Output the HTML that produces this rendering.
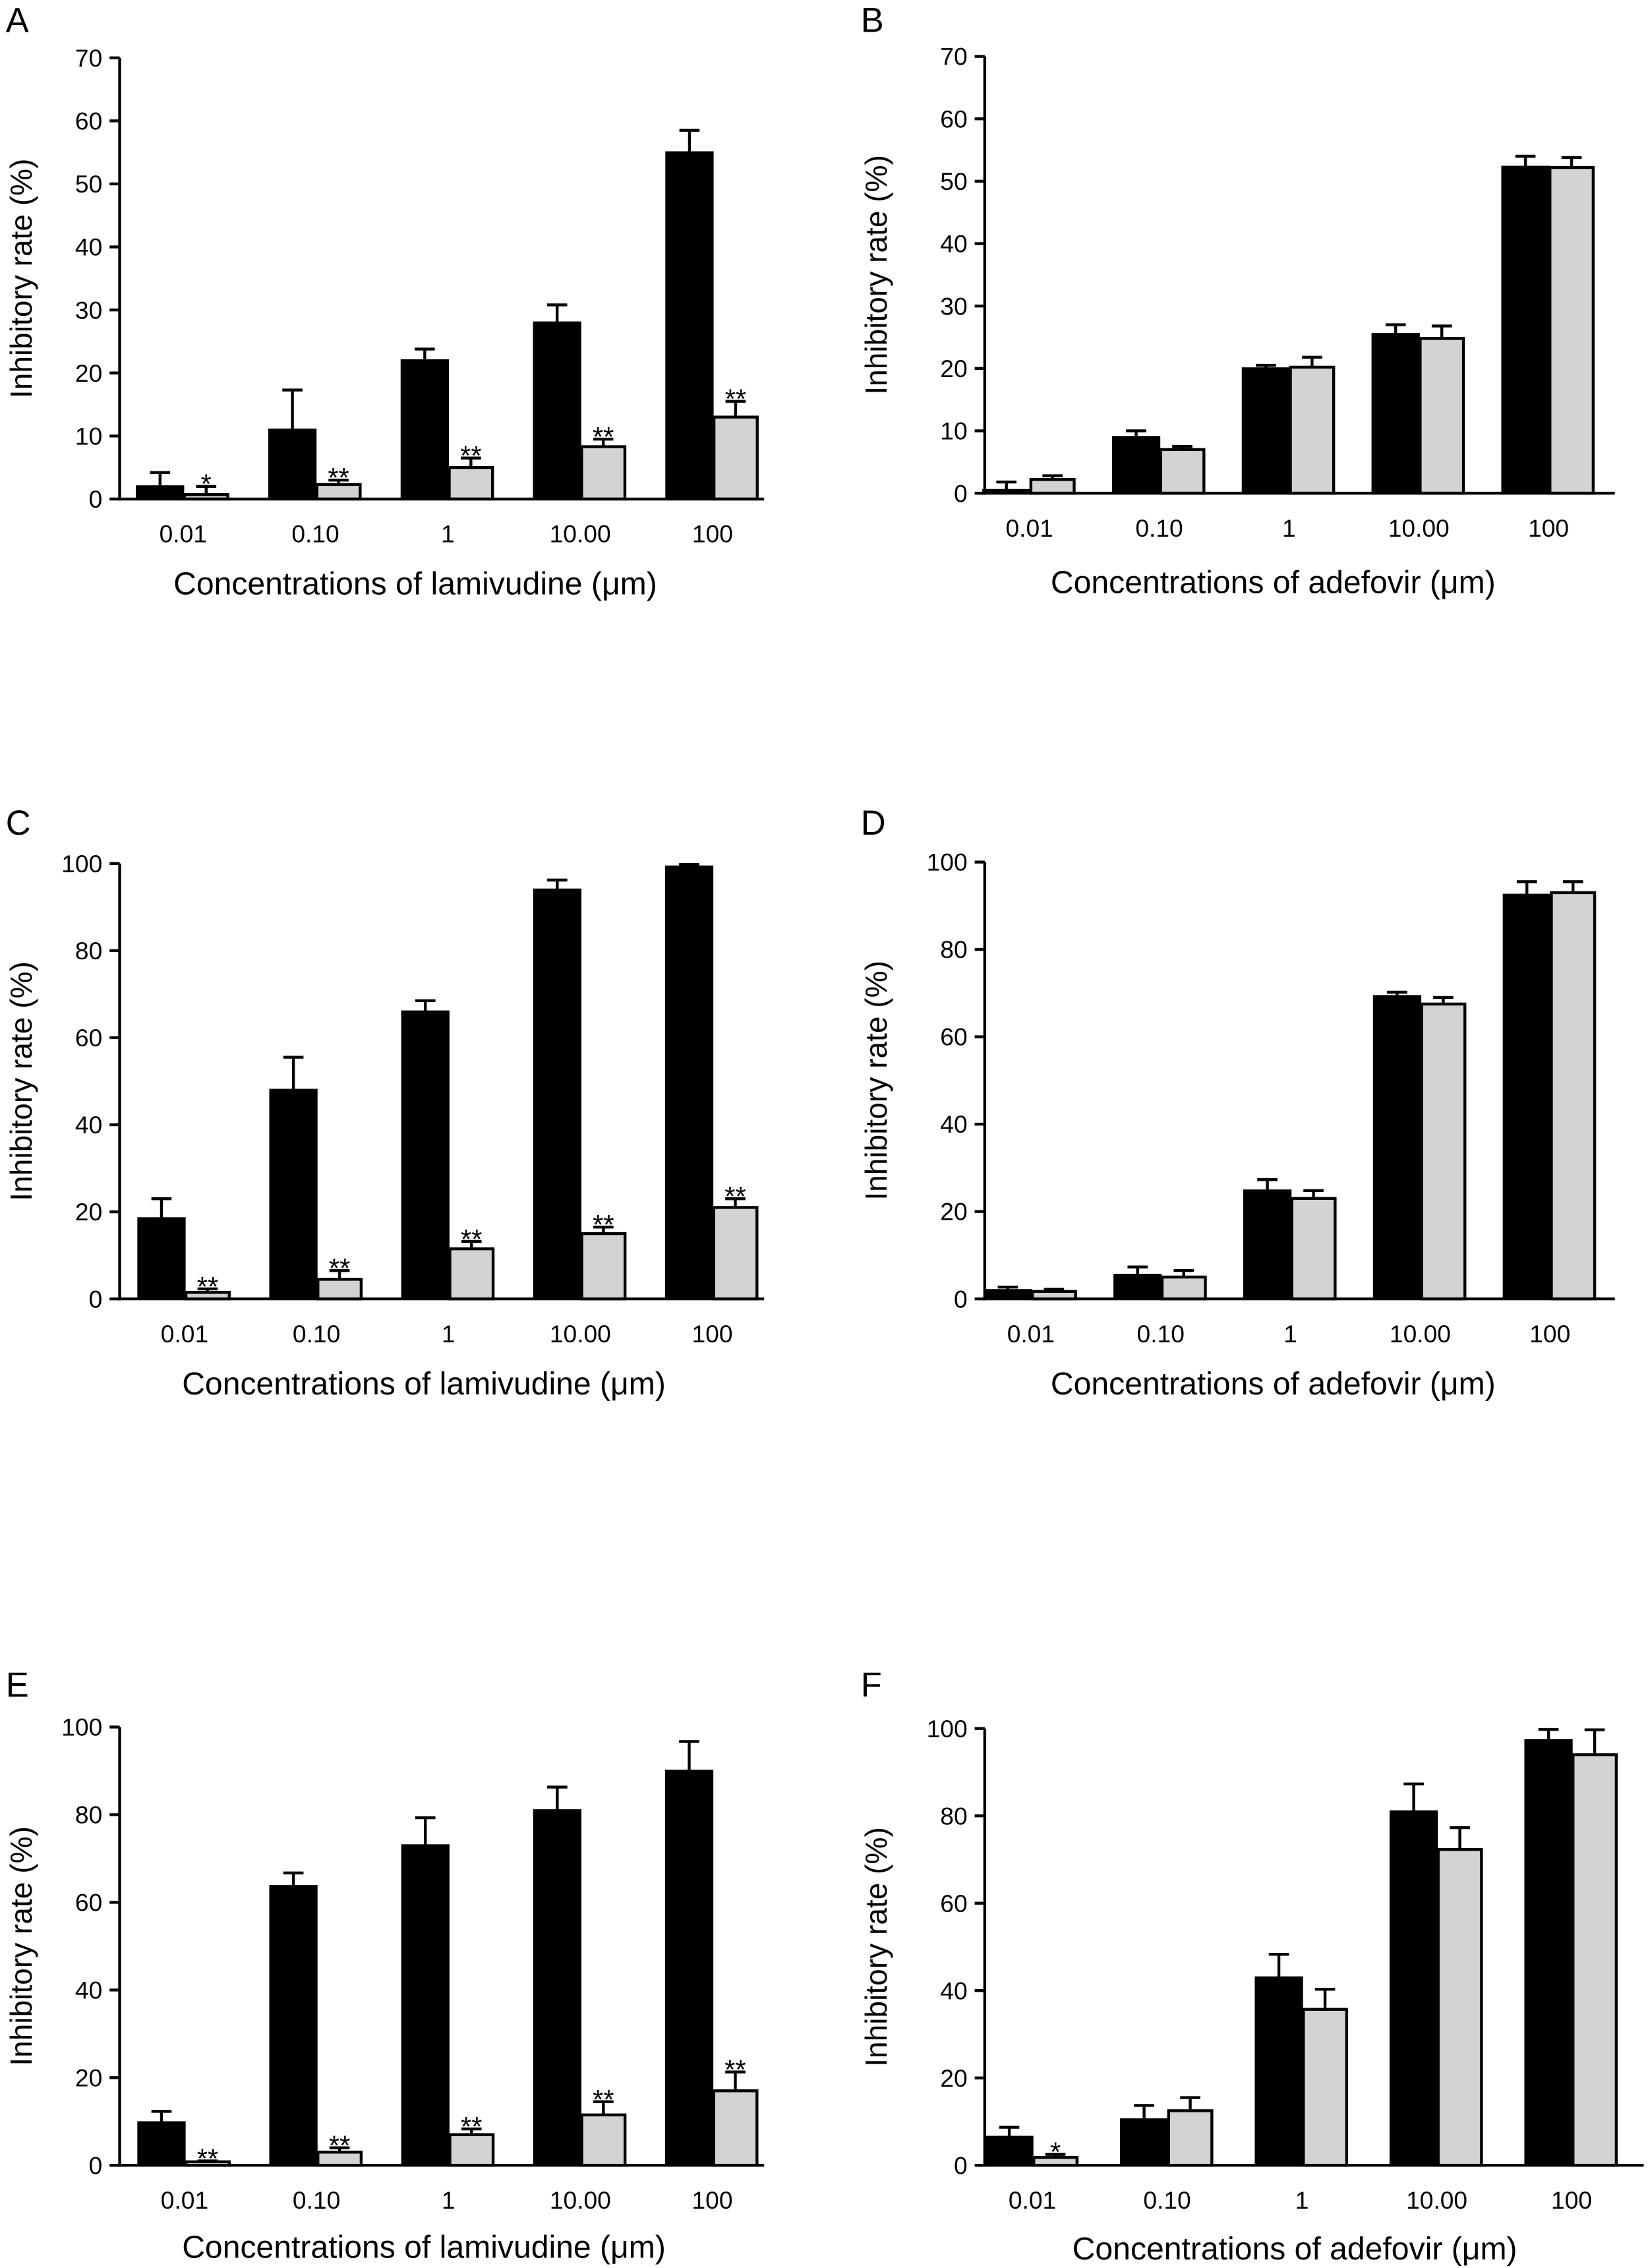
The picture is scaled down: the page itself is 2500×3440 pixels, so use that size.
<!DOCTYPE html>
<html><head><meta charset="utf-8"><style>
html,body{margin:0;padding:0;background:#fff}
svg{display:block}
text{font-family:"Liberation Sans",Arial,sans-serif;fill:#000}
</style></head><body>
<svg id="fig" width="2500" height="3440" viewBox="0 0 1143 1568" preserveAspectRatio="none" xmlns="http://www.w3.org/2000/svg"></svg>
<script>
const categories = ["0.01","0.10","1","10.00","100"];
const blackA=[2,11,22,28,55], blackErrA=[4.2,17.3,23.8,30.8,58.5];
const grayA=[0.7,2.3,5,8.3,13], grayErrA=[2,3,6.5,9.5,15.5];
const starsA=["*","**","**","**","**"];
const blackB=[0.5,9,20,25.5,52.3], blackErrB=[1.8,10,20.5,27,54];
const grayB=[2.2,7,20.2,24.8,52.2], grayErrB=[2.8,7.5,21.8,26.8,53.8];
const starsB=["","","","",""];
const blackC=[18.5,48,66,94,99.3], blackErrC=[23,55.5,68.5,96.2,99.8];
const grayC=[1.5,4.5,11.5,15,21], grayErrC=[2.3,6.5,13.2,16.5,23];
const starsC=["**","**","**","**","**"];
const blackD=[2,5.5,24.8,69.3,92.5], blackErrD=[2.7,7.3,27.3,70.2,95.5];
const grayD=[1.7,5,23,67.5,93], grayErrD=[2.2,6.5,24.8,69,95.5];
const starsD=["","","","",""];
const blackE=[9.8,63.7,73,81,90], blackErrE=[12.3,66.7,79.3,86.3,96.7];
const grayE=[0.8,3,7,11.5,17], grayErrE=[1,4,8.3,14.5,21.3];
const starsE=["**","**","**","**","**"];
const blackF=[6.5,10.5,43,81,97.3], blackErrF=[8.7,13.7,48.3,87.3,99.8];
const grayF=[1.8,12.5,35.7,72.3,94], grayErrF=[2.5,15.5,40.3,77.3,99.7];
const starsF=["*","","","",""];
const ticks70=[0,10,20,30,40,50,60,70];
const ticks100=[0,20,40,60,80,100];

const NS="http://www.w3.org/2000/svg";
const svg=document.getElementById('fig');
function mk(tag,attrs,parent){const e=document.createElementNS(NS,tag);for(const k in attrs)e.setAttribute(k,attrs[k]);(parent||svg).appendChild(e);return e;}

const panels=[
 {id:'a',L:'A',ax:83,y0:345,yT:40,max:70,ticks:ticks70,c0:127,dx:91.8,xend:530,drug:'lamivudine',b:blackA,be:blackErrA,g:grayA,ge:grayErrA,s:starsA,lx:4,ly:22,ty:411,tx:288,yt:14},
 {id:'b',L:'B',ax:683,y0:341,yT:39,max:70,ticks:ticks70,c0:714,dx:90,xend:1120,drug:'adefovir',b:blackB,be:blackErrB,g:grayB,ge:grayErrB,s:starsB,lx:597,ly:22,ty:410,tx:883,yt:607},
 {id:'c',L:'C',ax:83,y0:898,yT:597,max:100,ticks:ticks100,c0:128,dx:91.5,xend:530,drug:'lamivudine',b:blackC,be:blackErrC,g:grayC,ge:grayErrC,s:starsC,lx:4,ly:577,ty:964,tx:294,yt:14},
 {id:'d',L:'D',ax:683,y0:898,yT:596,max:100,ticks:ticks100,c0:715,dx:90,xend:1120,drug:'adefovir',b:blackD,be:blackErrD,g:grayD,ge:grayErrD,s:starsD,lx:597,ly:577,ty:964,tx:883,yt:607},
 {id:'e',L:'E',ax:83,y0:1497,yT:1194,max:100,ticks:ticks100,c0:128,dx:91.5,xend:530,drug:'lamivudine',b:blackE,be:blackErrE,g:grayE,ge:grayErrE,s:starsE,lx:4,ly:1173,ty:1561,tx:294,yt:14},
 {id:'f',L:'F',ax:683,y0:1497,yT:1195,max:100,ticks:ticks100,c0:716,dx:93.5,xend:1140,drug:'adefovir',b:blackF,be:blackErrF,g:grayF,ge:grayErrF,s:starsF,lx:597,ly:1173,ty:1562,tx:898,yt:607}
];

panels.forEach(p=>{
 const g=mk('g',{});
 
 
 const Y=v=>p.y0-(v/p.max)*(p.y0-p.yT);
 const X=i=>p.c0+i*p.dx;
 const lt=mk('text',{x:p.lx,y:p.ly,'font-size':24},g);lt.textContent=p.L;
 
 
 p.b.forEach((v,i)=>{
  const cx=X(i);
  const el=mk('line',{x1:cx-16,x2:cx-16,y1:Y(v),y2:Y(p.be[i]),stroke:'#000','stroke-width':2},g);
  
  
  mk('line',{x1:cx-23,x2:cx-9,y1:Y(p.be[i]),y2:Y(p.be[i]),stroke:'#000','stroke-width':2},g);
  const r=mk('rect',{x:cx-32,y:Y(v),width:32,height:p.y0-Y(v),fill:'#000',stroke:'#000','stroke-width':1.5},g);
  
  
  const gv=p.g[i];
  const e2=mk('line',{x1:cx+16,x2:cx+16,y1:Y(gv),y2:Y(p.ge[i]),stroke:'#000','stroke-width':2},g);
  
  
  mk('line',{x1:cx+9,x2:cx+23,y1:Y(p.ge[i]),y2:Y(p.ge[i]),stroke:'#000','stroke-width':2},g);
  const r2=mk('rect',{x:cx+1,y:Y(gv),width:30,height:p.y0-Y(gv),fill:'#d3d3d3',stroke:'#000','stroke-width':2},g);
  
  
  if(p.s[i]){
   const st=mk('text',{x:cx+16,y:Y(p.ge[i])+5,'font-size':19,'text-anchor':'middle'},g);
   st.textContent=p.s[i];
   
   
  }
  const tl=mk('text',{x:cx,y:p.y0+30,'font-size':17,'text-anchor':'middle'},g);
  tl.textContent=categories[i];
  
  
 });
 const ya=mk('line',{x1:p.ax,x2:p.ax,y1:p.yT,y2:p.y0+1,stroke:'#000','stroke-width':2},g);
 
 
 const xa=mk('line',{x1:p.ax-1,x2:p.xend,y1:p.y0,y2:p.y0,stroke:'#000','stroke-width':2},g);
 
 
 p.ticks.forEach(t=>{
  mk('line',{x1:p.ax-7,x2:p.ax,y1:Y(t),y2:Y(t),stroke:'#000','stroke-width':2},g);
  const tx=mk('text',{x:p.ax-12,y:Y(t)+6,'font-size':17,'text-anchor':'end'},g);
  tx.textContent=t;
  
  
 });
 const xt=mk('text',{x:p.tx,y:p.ty,'font-size':22,'text-anchor':'middle'},g);
 xt.textContent='Concentrations of '+p.drug+' (\u03bcm)';
 
 
 const my=(p.y0+p.yT)/2;
 const yt=mk('text',{x:p.yt+8,y:my,'font-size':21,'text-anchor':'middle',transform:`rotate(-90 ${p.yt+8} ${my})`},g);
 yt.textContent='Inhibitory rate (%)';
 
 
});
</script>
</body></html>
